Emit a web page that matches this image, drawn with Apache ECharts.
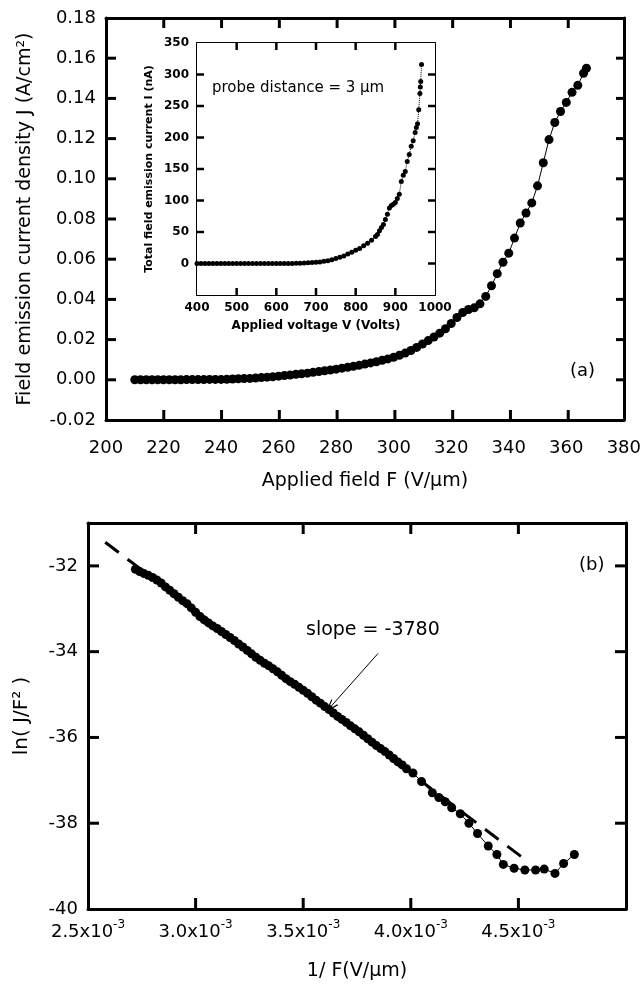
<!DOCTYPE html>
<html>
<head>
<meta charset="utf-8">
<title>Field emission J-F and FN plot</title>
<script src="https://cdn.jsdelivr.net/npm/echarts@6/dist/echarts.min.js"></script>
<style>
  html, body { margin: 0; padding: 0; background: #fff; }
  #chart { width: 644px; height: 984px; }
</style>
</head>
<body>
<div id="chart"></div>
<script>
// (a) field emission current density vs applied field
const fieldF = [210, 212, 214, 216, 218, 220, 222, 224, 226, 228, 230, 232, 234, 236, 238, 240,
  242, 244, 246, 248, 250, 252, 254, 256, 258, 260, 262, 264, 266, 268, 270, 272, 274, 276, 278,
  280, 282, 284, 286, 288, 290, 292, 294, 296, 298, 300, 302, 304, 306, 308, 310, 312, 314, 316,
  318, 320, 322, 324, 326, 328, 330, 332, 334, 336, 338, 340, 342, 344, 346, 348, 350, 352, 354,
  356, 358, 360, 362, 364, 366, 367];
const densityJ = [0, 0, 0, 0, 0, 0, 0, 0, 0, 0.0001, 0.0001, 0.0001, 0.0001, 0.0002, 0.0002, 0.0002,
  0.0003, 0.0004, 0.0005, 0.0006, 0.0007, 0.0009, 0.0011, 0.0013, 0.0015, 0.0018, 0.0021, 0.0024,
  0.0027, 0.0030, 0.0033, 0.0037, 0.0041, 0.0045, 0.0049, 0.0053, 0.0058, 0.0062, 0.0067, 0.0072,
  0.0078, 0.0084, 0.0090, 0.0097, 0.0104, 0.0112, 0.0122, 0.0133, 0.0146, 0.0161, 0.0178, 0.0195,
  0.0213, 0.0232, 0.0254, 0.0280, 0.0310, 0.0335, 0.0350, 0.0358, 0.0378, 0.0415, 0.0468, 0.0528,
  0.0585, 0.0630, 0.0705, 0.0780, 0.0830, 0.0880, 0.0965, 0.1080, 0.1195, 0.1280, 0.1335, 0.1380,
  0.1430, 0.1465, 0.1525, 0.1550];

// inset: total current vs applied voltage
const voltageV = [400, 410, 420, 430, 440, 450, 460, 470, 480, 490, 500, 510, 520, 530, 540, 550,
  560, 570, 580, 590, 600, 610, 620, 630, 640, 650, 660, 670, 680, 690, 700, 710, 720, 730, 740,
  750, 760, 770, 780, 790, 800, 810, 820, 830, 840, 850, 855, 860, 865, 870, 875, 880, 885, 890,
  895, 900, 905, 910, 915, 920, 925, 930, 935, 940, 945, 950, 953, 956, 959, 962, 963, 964, 966];
const currentI = [0, 0, 0, 0, 0, 0, 0, 0, 0, 0, 0, 0, 0, 0, 0, 0,
  0, 0, 0, 0, 0, 0, 0, 0, 0, 0.3, 0.5, 0.8, 1, 1.5, 2, 2.5, 3.5, 4.5, 6,
  8, 10, 12, 15, 18, 21, 24, 28, 32, 37, 43, 46, 52, 57, 62, 70, 78, 88, 92,
  94, 97, 103, 110, 130, 140, 146, 162, 173, 186, 195, 208, 216, 222, 244, 270, 280, 289, 316];

// (b) ln(J/F^2) vs 1/F, 1/F in units of 1e-3
const invF = [2.72, 2.74, 2.76, 2.78, 2.80, 2.82, 2.84, 2.86, 2.88, 2.90, 2.92, 2.94, 2.96, 2.98,
  3.00, 3.02, 3.04, 3.06, 3.08, 3.10, 3.12, 3.14, 3.16, 3.18, 3.20, 3.22, 3.24, 3.26, 3.28, 3.30,
  3.32, 3.34, 3.36, 3.38, 3.40, 3.42, 3.44, 3.46, 3.48, 3.50, 3.52, 3.54, 3.56, 3.58, 3.60, 3.62,
  3.64, 3.66, 3.68, 3.70, 3.72, 3.74, 3.76, 3.78, 3.80, 3.82, 3.84, 3.86, 3.88, 3.90, 3.92, 3.94,
  3.96, 3.98, 4.01, 4.05, 4.10, 4.13, 4.16, 4.19, 4.23, 4.27, 4.31, 4.36, 4.40, 4.43, 4.48, 4.53,
  4.58, 4.62, 4.67, 4.71, 4.76];
const lnJF2 = [-32.08, -32.13, -32.18, -32.22, -32.27, -32.33, -32.40, -32.49, -32.57, -32.65,
  -32.73, -32.81, -32.88, -32.98, -33.08, -33.18, -33.26, -33.33, -33.40, -33.46, -33.53, -33.60,
  -33.67, -33.74, -33.82, -33.89, -33.97, -34.05, -34.13, -34.20, -34.27, -34.33, -34.40, -34.47,
  -34.55, -34.63, -34.70, -34.76, -34.83, -34.90, -34.97, -35.05, -35.13, -35.20, -35.28, -35.35,
  -35.43, -35.51, -35.58, -35.65, -35.73, -35.80, -35.87, -35.95, -36.03, -36.11, -36.19, -36.26,
  -36.33, -36.41, -36.49, -36.57, -36.64, -36.73, -36.83, -37.03, -37.29, -37.40, -37.50, -37.64,
  -37.78, -38.00, -38.24, -38.53, -38.73, -38.96, -39.05, -39.09, -39.09, -39.07, -39.17, -38.94,
  -38.73];
// straight-line fit (slope -3780)
const fitX = [2.58, 4.54];
const fitY = [-31.45, -38.88];

// axis ranges [min, max, step]
const rangeF = [200, 380, 20];
const rangeJ = [-0.02, 0.18, 0.02];
const rangeV = [400, 1000, 100];
const rangeI = [-50, 350, 50];
const rangeInvF = [2.5, 5.0, 0.5];
const rangeLn = [-40, -31, 2];
// ticked / labelled values
const ticksF = [220, 240, 260, 280, 300, 320, 340, 360];
const ticksJ = [0, 0.02, 0.04, 0.06, 0.08, 0.10, 0.12, 0.14, 0.16];
const ticksV = [500, 600, 700, 800, 900];
const ticksI = [0, 50, 100, 150, 200, 250, 300];
const ticksInvF = [3.0, 3.5, 4.0, 4.5];
const ticksLn = [-38, -36, -34, -32];
const labelsI = [0, 50, 100, 150, 200, 250, 300, 350];
const labelsInvF = [2.5, 3.0, 3.5, 4.0, 4.5];
const labelsLn = [-40, -38, -36, -34, -32];

// panel rectangles
const boxMain = {left: 106, top: 18, width: 520, height: 402};
const boxInset = {left: 197, top: 43, width: 238, height: 252};
const boxFN = {left: 88, top: 523, width: 538, height: 386};

const FONT = 'DejaVu Sans';
const chart = echarts.init(document.getElementById('chart'), null, {renderer: 'canvas'});

function zip(xs, ys) {
    return xs.map((x, i) => [x, ys[i]]);
}

// every side of a panel is an axis: its line is the frame edge
function frameAxis(grid, pos, range, lineW, label) {
    return {
        type: 'value',
        gridIndex: grid,
        position: pos,
        min: range[0],
        max: range[1],
        interval: range[2],
        splitLine: {show: false},
        axisLine: {show: true, onZero: false, lineStyle: {color: '#000', width: lineW}},
        axisTick: {show: false},
        axisLabel: Object.assign({show: !!label, color: '#000',
            fontFamily: FONT, formatter: v => String(v)}, label || {})
    };
}

function nameStyle(size, weight) {
    return {fontFamily: FONT, fontSize: size, color: '#000', fontWeight: weight || 'normal'};
}

// inward ticks on the four sides of a panel, as filled bars
function panelTicks(box, xRange, yRange, xTicks, yTicks, len, w) {
    const out = [];
    const sx = v => box.left + (v - xRange[0]) / (xRange[1] - xRange[0]) * box.width;
    const sy = v => box.top + (yRange[1] - v) / (yRange[1] - yRange[0]) * box.height;
    const bar = (x, y, bw, bh) => out.push({
        type: 'rect', z: 100, silent: true,
        shape: {x: x, y: y, width: bw, height: bh},
        style: {fill: '#000'}
    });
    const bottom = box.top + box.height, right = box.left + box.width;
    xTicks.forEach(v => {
        bar(sx(v) - w / 2, bottom - len, w, len);
        bar(sx(v) - w / 2, box.top, w, len);
    });
    yTicks.forEach(v => {
        bar(box.left, sy(v) - w / 2, len, w);
        bar(right - len, sy(v) - w / 2, len, w);
    });
    return out;
}

// main (a)
const xMain = frameAxis(0, 'bottom', rangeF, 3, {fontSize: 18, margin: 19});
xMain.name = 'Applied field F (V/\u03bcm)';
xMain.nameLocation = 'middle';
xMain.nameGap = 52;
xMain.nameTextStyle = nameStyle(19);
const yMain = frameAxis(0, 'left', rangeJ, 3,
    {fontSize: 18, margin: 10, formatter: v => v.toFixed(2)});
yMain.name = 'Field emission current density J (A/cm\u00b2)';
yMain.nameLocation = 'middle';
yMain.nameGap = 71;
yMain.nameTextStyle = nameStyle(19);

// inset
const insetLabel = {fontSize: 12, fontWeight: 'bold'};
const xInset = frameAxis(1, 'bottom', rangeV, 2, Object.assign({margin: 7}, insetLabel));
xInset.name = 'Applied voltage V (Volts)';
xInset.nameLocation = 'middle';
xInset.nameGap = 25;
xInset.nameTextStyle = nameStyle(12, 'bold');
const yInset = frameAxis(1, 'left', rangeI, 2,
    Object.assign({margin: 8, customValues: labelsI}, insetLabel));
yInset.name = 'Total field emission current I (nA)';
yInset.nameLocation = 'middle';
yInset.nameGap = 42;
yInset.nameTextStyle = nameStyle(11, 'bold');

// (b)
const xFN = frameAxis(2, 'bottom', rangeInvF, 3, {
    customValues: labelsInvF, margin: 10,
    formatter: v => '{m|' + v.toFixed(1) + 'x10}{s|-3}',
    rich: {
        m: {fontFamily: FONT, fontSize: 18, color: '#000', verticalAlign: 'bottom', lineHeight: 22},
        s: {fontFamily: FONT, fontSize: 12, color: '#000', verticalAlign: 'top', lineHeight: 12}
    }
});
xFN.name = '1/ F(V/\u03bcm)';
xFN.nameLocation = 'middle';
xFN.nameGap = 53;
xFN.nameTextStyle = nameStyle(19);
const yFN = frameAxis(2, 'left', rangeLn, 3, {fontSize: 18, margin: 10, customValues: labelsLn});
yFN.name = 'ln( J/F\u00b2 )';
yFN.nameLocation = 'middle';
yFN.nameGap = 56;
yFN.nameTextStyle = nameStyle(20);

const texts = [
    {type: 'text', left: 570, top: 362, style: {text: '(a)', font: '18px "DejaVu Sans"', fill: '#000'}},
    {type: 'text', left: 579, top: 556, style: {text: '(b)', font: '18px "DejaVu Sans"', fill: '#000'}},
    {type: 'text', left: 212, top: 81, z: 10,
        style: {text: 'probe distance = 3 \u03bcm', font: '15px "DejaVu Sans"', fill: '#000'}},
    {type: 'text', left: 306, top: 621, style: {text: 'slope = -3780', font: '19px "DejaVu Sans"', fill: '#000'}}
];

const tickMarks = [].concat(
    panelTicks(boxMain, rangeF, rangeJ, ticksF, ticksJ, 10, 3),
    panelTicks(boxInset, rangeV, rangeI, ticksV, ticksI, 7, 2.5),
    panelTicks(boxFN, rangeInvF, rangeLn, ticksInvF, ticksLn, 11, 3)
);

const option = {
    animation: false,
    backgroundColor: '#fff',
    grid: [
        Object.assign({}, boxMain),
        Object.assign({show: true, borderWidth: 0, backgroundColor: '#fff', z: 3}, boxInset),
        Object.assign({}, boxFN)
    ],
    xAxis: [
        xMain,
        frameAxis(0, 'top', rangeF, 3, null),
        xInset,
        frameAxis(1, 'top', rangeV, 2, null),
        xFN,
        frameAxis(2, 'top', rangeInvF, 3, null)
    ],
    yAxis: [
        yMain,
        frameAxis(0, 'right', rangeJ, 3, null),
        yInset,
        frameAxis(1, 'right', rangeI, 2, null),
        yFN,
        frameAxis(2, 'right', rangeLn, 3, null)
    ],
    series: [
        {
            name: 'J-F',
            type: 'line',
            xAxisIndex: 0,
            yAxisIndex: 0,
            data: zip(fieldF, densityJ),
            symbol: 'circle',
            symbolSize: 9,
            itemStyle: {color: '#000'},
            lineStyle: {color: '#000', width: 1}
        },
        {
            name: 'I-V',
            type: 'line',
            xAxisIndex: 2,
            yAxisIndex: 2,
            z: 4,
            data: zip(voltageV, currentI),
            symbol: 'circle',
            symbolSize: 5,
            itemStyle: {color: '#000'},
            lineStyle: {color: '#000', width: 1, type: 'dotted'}
        },
        {
            name: 'fit',
            type: 'line',
            xAxisIndex: 4,
            yAxisIndex: 4,
            z: 1,
            data: zip(fitX, fitY),
            symbol: 'none',
            lineStyle: {color: '#000', width: 3, type: [17, 11]},
            markLine: {
                silent: true,
                animation: false,
                label: {show: false},
                lineStyle: {color: '#000', width: 1, type: 'solid'},
                symbolSize: [9, 14],
                data: [[
                    {coord: [3.848, -34.04], symbol: 'none'},
                    {coord: [3.625, -35.30], symbol: 'path://M0,10 L5,0 L10,10 L8.6,10 L5,2.6 L1.4,10 Z'}
                ]]
            }
        },
        {
            name: 'FN',
            type: 'line',
            xAxisIndex: 4,
            yAxisIndex: 4,
            z: 2,
            data: zip(invF, lnJF2),
            symbol: 'circle',
            symbolSize: 9,
            itemStyle: {color: '#000'},
            lineStyle: {color: '#000', width: 1}
        }
    ],
    graphic: texts.concat(tickMarks)
};

chart.setOption(option);
</script>
</body>
</html>
